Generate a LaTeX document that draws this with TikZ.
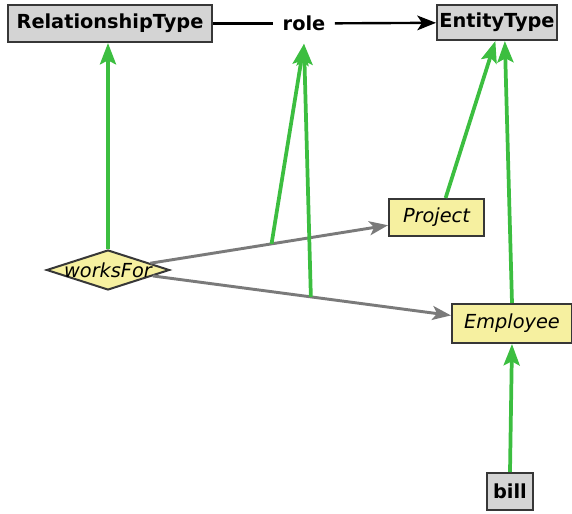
\documentclass[tikz,border=0pt]{standalone}
\usepackage{fontspec}
\setmainfont{DejaVu Sans}
\usetikzlibrary{arrows.meta,shapes.geometric}

\definecolor{boxgray}{RGB}{212,212,212}
\definecolor{boxyellow}{RGB}{246,240,160}
\definecolor{edgedark}{RGB}{55,55,55}
\definecolor{linkgreen}{RGB}{60,190,64}
\definecolor{linkgray}{RGB}{122,122,122}

\begin{document}
\begin{tikzpicture}[x=0.75pt,y=-0.75pt,
  typebox/.style={draw=edgedark, line width=1.5pt, fill=boxgray,
    font=\fontsize{14.5}{16}\selectfont\bfseries, inner sep=0pt},
  classbox/.style={draw=edgedark, line width=1.5pt, fill=boxyellow,
    font=\fontsize{14.5}{16}\selectfont\itshape, inner sep=0pt},
  relshape/.style={diamond, aspect=3.07, draw=edgedark, line width=1.5pt,
    fill=boxyellow, font=\fontsize{14.5}{16}\selectfont\itshape, inner sep=-4pt,
    minimum width=92.25pt, minimum height=30pt},
  greenlink/.style={draw=linkgreen, line width=2.8pt,
    -{Stealth[length=16pt,width=12pt,inset=3pt]}},
  graylink/.style={draw=linkgray, line width=2.2pt,
    -{Stealth[length=14pt,width=10.5pt,inset=3.5pt]}},
  blacklink/.style={draw=black, line width=1.8pt}
]
  \useasboundingbox (0,0) rectangle (572,514);

  % meta types
  \node[typebox, minimum width=153pt, minimum height=27.75pt] (rt) at (110,23.5) {RelationshipType};
  \node[typebox, minimum width=90pt, minimum height=26.25pt] (et) at (497,22.5) {EntityType};
  \node[font=\fontsize{14.5}{16}\selectfont\bfseries, inner xsep=7pt, inner ysep=0pt,
        minimum height=30pt] (role) at (304,23.5) {role};

  % model elements
  \node[classbox, minimum width=71.25pt, minimum height=27.75pt] (proj) at (436.5,217.5) {Project};
  \node[classbox, minimum width=90pt, minimum height=29.25pt] (emp) at (512,323.5) {Employee};
  \node[relshape] (wf) at (108,270) {worksFor};
  \node[typebox, minimum width=34.5pt, minimum height=27.75pt] (bill) at (510,491.5) {bill};

  % role link of the meta level
  \draw[blacklink] (rt) -- (role);
  \draw[blacklink, -{Stealth[length=14pt,width=11pt,inset=3.5pt]}] (role) -- (et);

  % relationship ends
  \draw[graylink] (wf) -- coordinate[pos=0.51] (endA) (proj);
  \draw[graylink] (wf) -- coordinate[pos=0.53] (endB) (emp);

  % instance-of links
  \draw[greenlink] (wf.north) -- (wf.north |- rt.south);
  \draw[greenlink] (endA) -- (role.south);
  \draw[greenlink] (endB) -- (role.south);
  \draw[greenlink] (proj.65) -- (et.265);
  \draw[greenlink] (emp.north) -- (et.293);
  \draw[greenlink] (bill.north) -- (emp.south);
\end{tikzpicture}
\end{document}
